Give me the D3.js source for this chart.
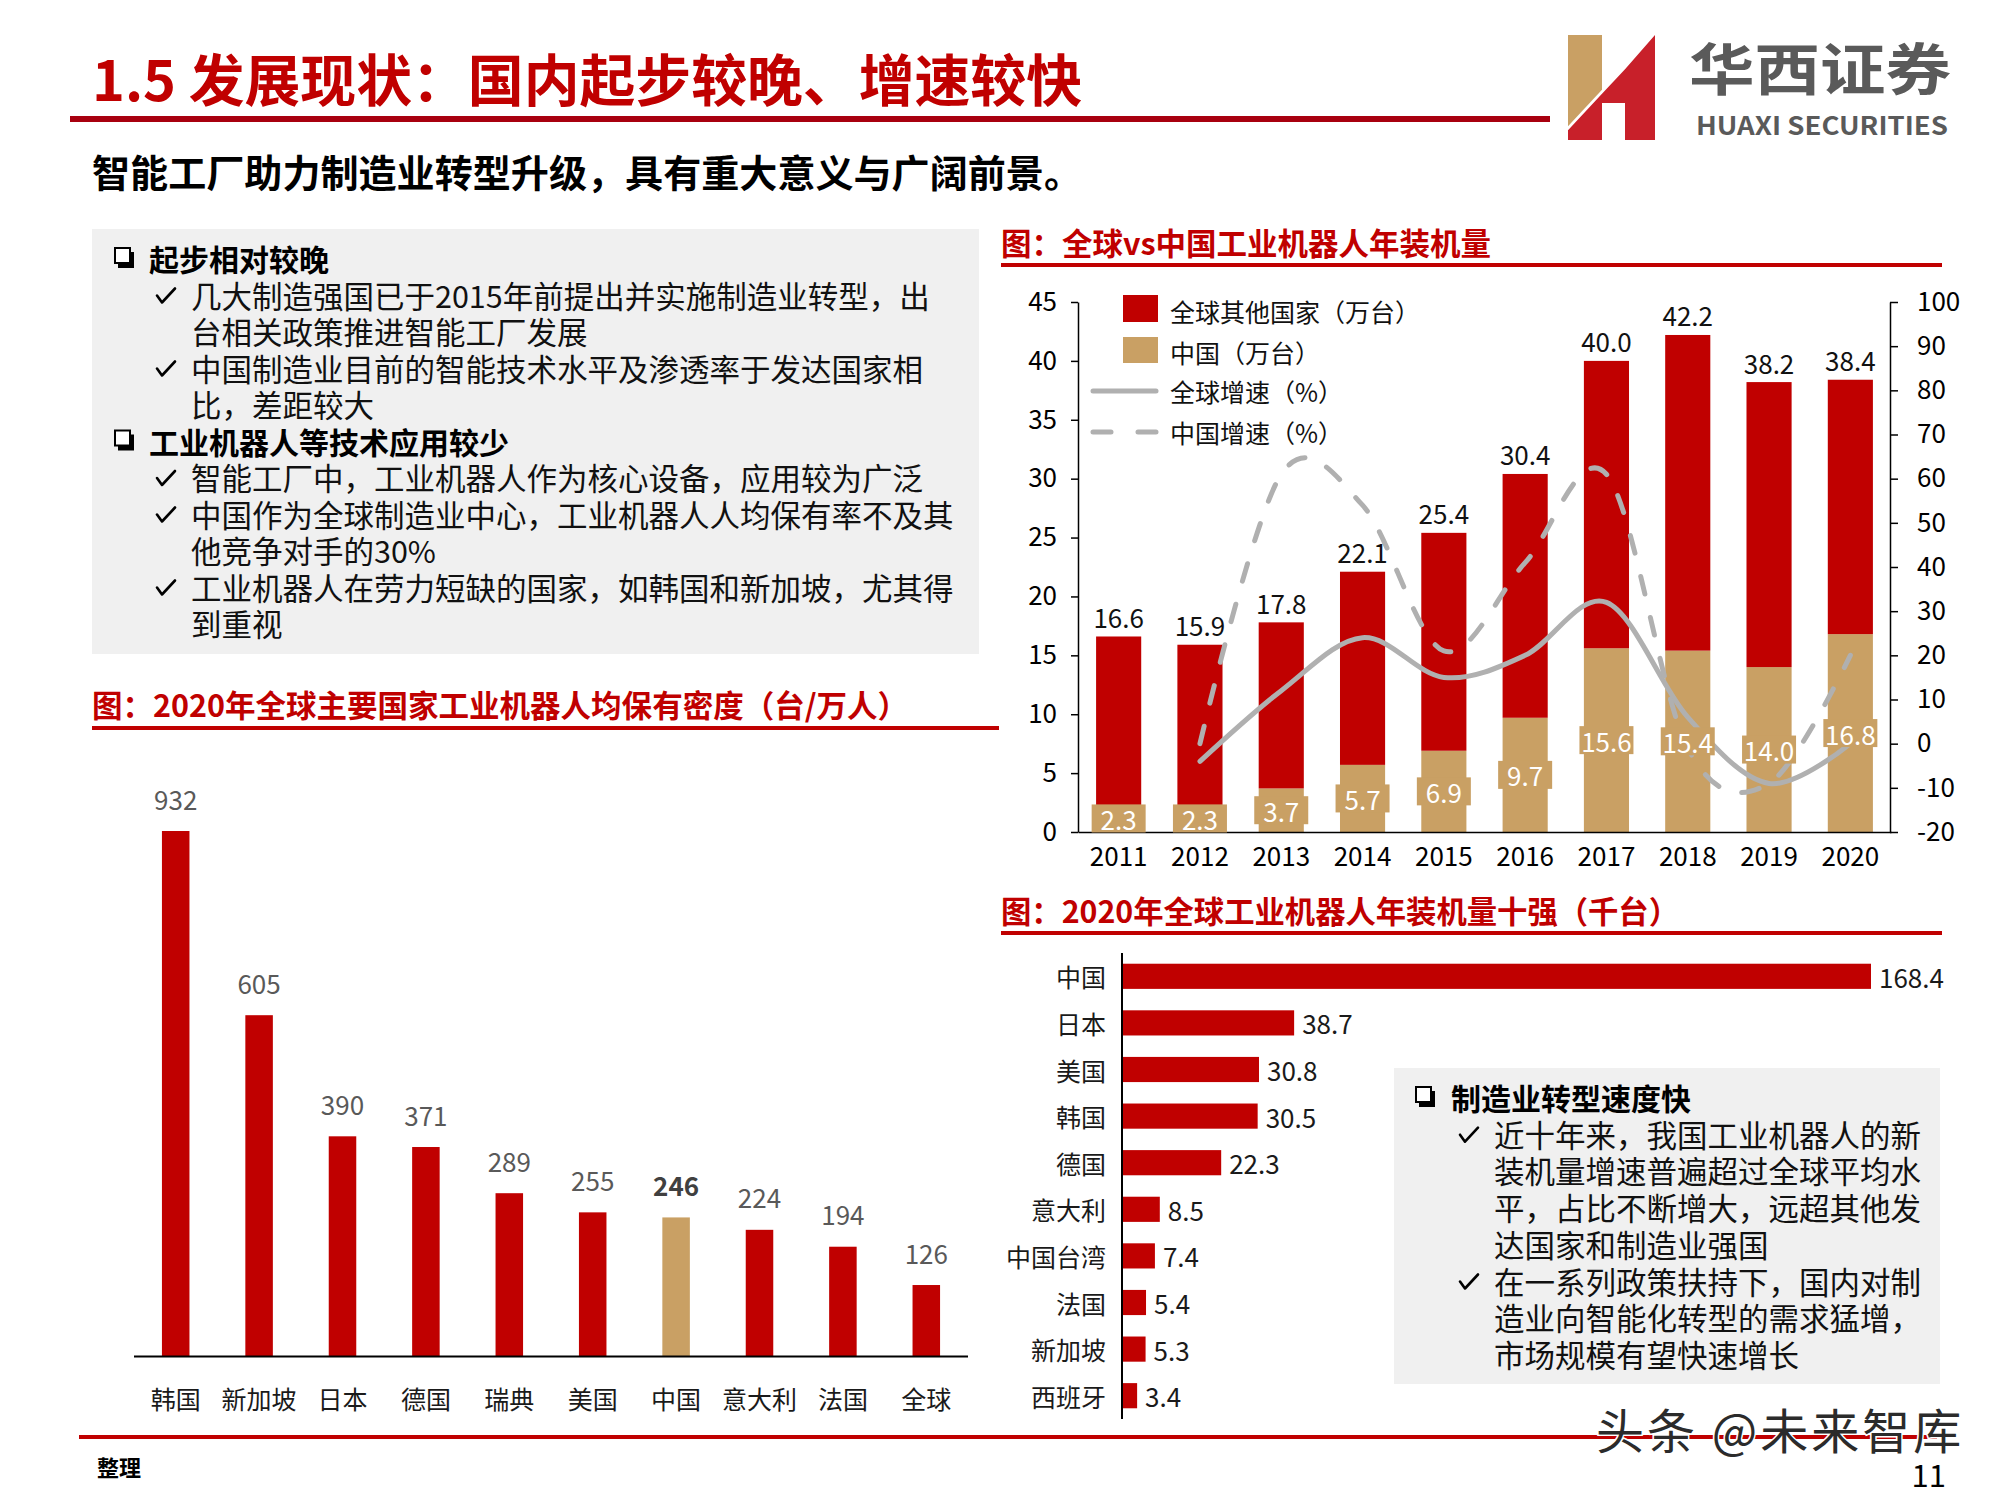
<!DOCTYPE html>
<html><head><meta charset="utf-8">
<script src="https://cdn.jsdelivr.net/npm/d3@7"></script>
<style>
html,body{margin:0;padding:0;background:#fff;}
svg{display:block;}
text{font-family:"Noto Sans CJK SC","Noto Sans",sans-serif;}
</style></head><body>
<svg id="chart" width="2000" height="1496"></svg>
<script>
// ---------------- DATA ----------------
const densityCountries = ["韩国","新加坡","日本","德国","瑞典","美国","中国","意大利","法国","全球"];
const densityValues = [932,605,390,371,289,255,246,224,194,126];

const years = ["2011","2012","2013","2014","2015","2016","2017","2018","2019","2020"];
const chinaInstalls = [2.3,2.3,3.7,5.7,6.9,9.7,15.6,15.4,14.0,16.8];
const otherInstalls = [14.3,13.6,14.1,16.4,18.5,20.7,24.4,26.8,24.2,21.6];
const totalLabels = [16.6,15.9,17.8,22.1,25.4,30.4,40.0,42.2,38.2,38.4];
const globalGrowth = [null,-4,12,24,15,20,32,6,-9,0];
const chinaGrowth = [null,0,61,54,21,41,61,-1,-9,20];
const leftTicks = [0,5,10,15,20,25,30,35,40,45];
const rightTicks = [-20,-10,0,10,20,30,40,50,60,70,80,90,100];
const comboLegend = ["全球其他国家（万台）","中国（万台）","全球增速（%）","中国增速（%）"];

const top10Countries = ["中国","日本","美国","韩国","德国","意大利","中国台湾","法国","新加坡","西班牙"];
const top10Values = [168.4,38.7,30.8,30.5,22.3,8.5,7.4,5.4,5.3,3.4];

const leftBoxLines = [
  ["h","起步相对较晚"],
  ["c","几大制造强国已于2015年前提出并实施制造业转型，出"],
  ["","台相关政策推进智能工厂发展"],
  ["c","中国制造业目前的智能技术水平及渗透率于发达国家相"],
  ["","比，差距较大"],
  ["h","工业机器人等技术应用较少"],
  ["c","智能工厂中，工业机器人作为核心设备，应用较为广泛"],
  ["c","中国作为全球制造业中心，工业机器人人均保有率不及其"],
  ["","他竞争对手的30%"],
  ["c","工业机器人在劳力短缺的国家，如韩国和新加坡，尤其得"],
  ["","到重视"]
];
const rightBoxLines = [
  ["h","制造业转型速度快"],
  ["c","近十年来，我国工业机器人的新"],
  ["","装机量增速普遍超过全球平均水"],
  ["","平，占比不断增大，远超其他发"],
  ["","达国家和制造业强国"],
  ["c","在一系列政策扶持下，国内对制"],
  ["","造业向智能化转型的需求猛增，"],
  ["","市场规模有望快速增长"]
];

// ---------------- STYLE ----------------
const RED = "#c00000", TAN = "#c9a064", DARKRED = "#a8000f", LINEGRAY = "#b0b0b0";
const svg = d3.select("#chart");
svg.append("rect").attr("width",2000).attr("height",1496).attr("fill","#fff");

function txt(g, x, y, s, o) {
  o = o || {};
  const t = g.append("text").attr("x",x).attr("y",y).text(s)
    .attr("dominant-baseline","central")
    .attr("font-size",o.size||26)
    .attr("font-weight",o.weight||400)
    .attr("fill",o.fill||"#000")
    .attr("text-anchor",o.anchor||"start");
  if (o.len) t.attr("textLength",o.len).attr("lengthAdjust","spacingAndGlyphs");
  if (o.family) t.attr("font-family",o.family);
  return t;
}

// ---------------- HEADER ----------------
txt(svg, 92, 76, "1.5 发展现状：国内起步较晚、增速较快", {size:56, weight:700, fill:RED, len:990});
svg.append("rect").attr("x",70).attr("y",116).attr("width",1480).attr("height",6).attr("fill",DARKRED);
txt(svg, 92, 170, "智能工厂助力制造业转型升级，具有重大意义与广阔前景。", {size:38, weight:700, fill:"#000", len:990});

// Logo
(function(){
  const g = svg.append("g");
  const dy = x => 35 + (1655 - x) * 1.073;
  g.append("path").attr("fill","#c9a064")
    .attr("d",`M1568,35 L1602,35 L1602,${dy(1602)-2} L1568,${dy(1568)-2} Z`);
  g.append("path").attr("fill","#c8202a")
    .attr("d",`M1568,${dy(1568)+2} L1602,${dy(1602)+2} L1625,${dy(1625)+2} L1655,35 L1655,140 L1625,140 L1625,103 L1602,103 L1602,140 L1568,140 Z`);
  txt(g, 1689, 65, "华西证券", {size:56, weight:700, fill:"#5a5a5a", len:262});
  txt(g, 1696, 124, "HUAXI SECURITIES", {size:25, weight:600, fill:"#5a5a5a", len:252, family:"'Open Sans'"});
})();

// ---------------- BOX helpers ----------------
function boxSym(g, x, cy) {
  g.append("rect").attr("x",x+4).attr("y",cy-6).attr("width",16).attr("height",16).attr("fill","#000");
  g.append("rect").attr("x",x+1).attr("y",cy-10).attr("width",15).attr("height",15).attr("fill","#fff").attr("stroke","#000").attr("stroke-width",2);
}
function checkMark(g, x, cy) {
  g.append("path").attr("d",`M${x},${cy+1} L${x+5},${cy+8} L${x+18},${cy-6}`)
    .attr("fill","none").attr("stroke","#000").attr("stroke-width",2.6)
    .attr("stroke-linejoin","round").attr("stroke-linecap","round");
}
function drawBox(lines, o) {
  const g = svg.append("g");
  g.append("rect").attr("x",o.x).attr("y",o.y).attr("width",o.w).attr("height",o.h).attr("fill","#f0f0f0");
  lines.forEach((l,i) => {
    const cy = o.y0 + i*o.step;
    if (l[0]==="h") boxSym(g, o.symX, cy);
    if (l[0]==="c") checkMark(g, o.checkX, cy);
  });
  const t = g.append("text").attr("dominant-baseline","central").attr("fill","#111");
  lines.forEach((l,i) => {
    const cy = o.y0 + i*o.step;
    const ts = t.append("tspan").attr("x", l[0]==="h" ? o.headX : o.textX).attr("y",cy)
      .attr("dominant-baseline","central").text(l[1]);
    if (l[0]==="h") ts.attr("font-size",30).attr("font-weight",700).attr("fill","#000");
    else ts.attr("font-size",30.5).attr("font-weight",400);
  });
}
drawBox(leftBoxLines, {x:92,y:229,w:887,h:425,y0:258,step:36.5,symX:114,headX:149,checkX:157,textX:191});
drawBox(rightBoxLines, {x:1394,y:1068,w:546,h:316,y0:1097,step:36.7,symX:1415,headX:1451,checkX:1460,textX:1494});

// ---------------- Chart titles ----------------
function chartTitle(x, y, s, len, lineY, x2) {
  txt(svg, x, y, s, {size:31, weight:700, fill:RED, len:len});
  svg.append("rect").attr("x",x).attr("y",lineY).attr("width",x2-x).attr("height",4).attr("fill",RED);
}
chartTitle(92, 703, "图：2020年全球主要国家工业机器人均保有密度（台/万人）", 816, 726, 999);
chartTitle(1001, 241, "图：全球vs中国工业机器人年装机量", 490, 263, 1942);
chartTitle(1001, 909, "图：2020年全球工业机器人年装机量十强（千台）", 678, 931, 1942);

// ---------------- Density bar chart ----------------
(function(){
  const g = svg.append("g");
  const x = d3.scaleBand().domain(densityCountries).range([134,968]).paddingInner(0.67).paddingOuter(0.335);
  const y = d3.scaleLinear().domain([0,932]).range([1356,831]);
  g.selectAll("rect.bar").data(densityCountries).join("rect").attr("class","bar")
    .attr("x",d=>x(d)).attr("width",x.bandwidth())
    .attr("y",(d,i)=>y(densityValues[i])).attr("height",(d,i)=>y(0)-y(densityValues[i]))
    .attr("fill",d=>d==="中国"?TAN:RED);
  g.append("line").attr("x1",134).attr("x2",968).attr("y1",1356.5).attr("y2",1356.5).attr("stroke","#000").attr("stroke-width",2);
  densityCountries.forEach((d,i)=>{
    const cx = x(d)+x.bandwidth()/2;
    txt(g, cx, y(densityValues[i])-33, String(densityValues[i]),
      {size:26, anchor:"middle", fill: d==="中国"?"#404040":"#595959", weight: d==="中国"?700:400});
    txt(g, cx, 1398, d, {size:25, anchor:"middle", fill:"#1a1a1a"});
  });
})();

// ---------------- Combo chart ----------------
(function(){
  const g = svg.append("g");
  const x = d3.scaleBand().domain(years).range([1078,1891]).paddingInner(0.445).paddingOuter(0.2225);
  const yL = d3.scaleLinear().domain([0,45]).range([832,302]);
  const yR = d3.scaleLinear().domain([-20,100]).range([832,302]);
  const cx = d => x(d)+x.bandwidth()/2;

  years.forEach((d,i)=>{
    g.append("rect").attr("x",x(d)).attr("width",x.bandwidth())
      .attr("y",yL(chinaInstalls[i])).attr("height",yL(0)-yL(chinaInstalls[i])).attr("fill",TAN);
    g.append("rect").attr("x",x(d)).attr("width",x.bandwidth())
      .attr("y",yL(chinaInstalls[i]+otherInstalls[i])).attr("height",yL(chinaInstalls[i])-yL(chinaInstalls[i]+otherInstalls[i])).attr("fill",RED);
  });

  const axL = g.append("g").attr("transform","translate(1078,0)")
    .call(d3.axisLeft(yL).tickValues(leftTicks).tickFormat(d=>String(d)).tickSize(7).tickSizeOuter(0).tickPadding(14));
  const axR = g.append("g").attr("transform","translate(1890,0)")
    .call(d3.axisRight(yR).tickValues(rightTicks).tickFormat(d=>String(d)).tickSize(8).tickSizeOuter(0).tickPadding(19));
  [axL,axR].forEach(a=>{
    a.selectAll("path,line").attr("stroke","#000").attr("stroke-width",1.5);
    a.selectAll("text").attr("font-size",26).attr("fill","#000").attr("font-family","'Noto Sans CJK SC'");
  });
  const axX = g.append("g").attr("transform","translate(0,832)")
    .call(d3.axisBottom(x).tickSize(0).tickPadding(16));
  axX.select("path").attr("stroke","#000").attr("stroke-width",1.5);
  axX.selectAll("text").attr("font-size",26).attr("fill","#000").attr("font-family","'Noto Sans CJK SC'");

  const line = d3.line().defined(d=>d[1]!==null).x(d=>d[0]).y(d=>yR(d[1])).curve(d3.curveCardinal.tension(0));
  g.append("path").attr("d",line(years.map((d,i)=>[cx(d),globalGrowth[i]])))
    .attr("fill","none").attr("stroke",LINEGRAY).attr("stroke-width",5).attr("stroke-linecap","round");
  g.append("path").attr("d",line(years.map((d,i)=>[cx(d),chinaGrowth[i]])))
    .attr("fill","none").attr("stroke",LINEGRAY).attr("stroke-width",5)
    .attr("stroke-linecap","round").attr("stroke-dasharray","18,24");

  years.forEach((d,i)=>{
    const tot = chinaInstalls[i]+otherInstalls[i];
    txt(g, cx(d), yL(tot)-20, totalLabels[i].toFixed(1), {size:26, anchor:"middle", fill:"#111"});
    const my = (yL(0)+yL(chinaInstalls[i]))/2;
    g.append("rect").attr("x",cx(d)-27).attr("y",my-14).attr("width",54).attr("height",28).attr("fill",TAN);
    txt(g, cx(d), my, chinaInstalls[i].toFixed(1), {size:26, anchor:"middle", fill:"#fff"});
  });

  g.append("rect").attr("x",1123).attr("y",295).attr("width",35).attr("height",27).attr("fill",RED);
  g.append("rect").attr("x",1123).attr("y",337).attr("width",35).attr("height",26).attr("fill",TAN);
  g.append("line").attr("x1",1093).attr("x2",1156).attr("y1",391).attr("y2",391).attr("stroke",LINEGRAY).attr("stroke-width",5).attr("stroke-linecap","round");
  g.append("line").attr("x1",1093).attr("x2",1156).attr("y1",432).attr("y2",432).attr("stroke",LINEGRAY).attr("stroke-width",5)
    .attr("stroke-linecap","round").attr("stroke-dasharray","18,27");
  [311,352,391,432].forEach((yy,i)=> txt(g, 1170, yy, comboLegend[i], {size:25, fill:"#111"}));
})();

// ---------------- Top 10 horizontal bars ----------------
(function(){
  const g = svg.append("g");
  const y = d3.scaleBand().domain(top10Countries).range([953,1419]).paddingInner(0.46).paddingOuter(0.23);
  const x = d3.scaleLinear().domain([0,168.4]).range([1122,1871]);
  g.selectAll("rect").data(top10Countries).join("rect")
    .attr("x",x(0)).attr("y",d=>y(d)).attr("height",y.bandwidth())
    .attr("width",(d,i)=>x(top10Values[i])-x(0)).attr("fill",RED);
  g.append("line").attr("x1",1122).attr("x2",1122).attr("y1",953).attr("y2",1419).attr("stroke","#000").attr("stroke-width",2);
  top10Countries.forEach((d,i)=>{
    const cy = y(d)+y.bandwidth()/2;
    txt(g, 1106, cy, d, {size:25, anchor:"end", fill:"#1a1a1a"});
    txt(g, x(top10Values[i])+8, cy, top10Values[i].toFixed(1), {size:26, fill:"#1a1a1a"});
  });
})();

// ---------------- Footer ----------------
svg.append("rect").attr("x",79).attr("y",1435).attr("width",1858).attr("height",4).attr("fill",RED);
txt(svg, 97, 1466, "整理", {size:22, weight:700, fill:"#000"});
txt(svg, 1596, 1428, "头条 @未来智库", {size:48, fill:"#2b2b2b"})
  .attr("letter-spacing",3).attr("stroke","#fff").attr("stroke-width",3).attr("paint-order","stroke");
txt(svg, 1946, 1473, "11", {size:31, anchor:"end", fill:"#000"});
</script>
</body></html>
